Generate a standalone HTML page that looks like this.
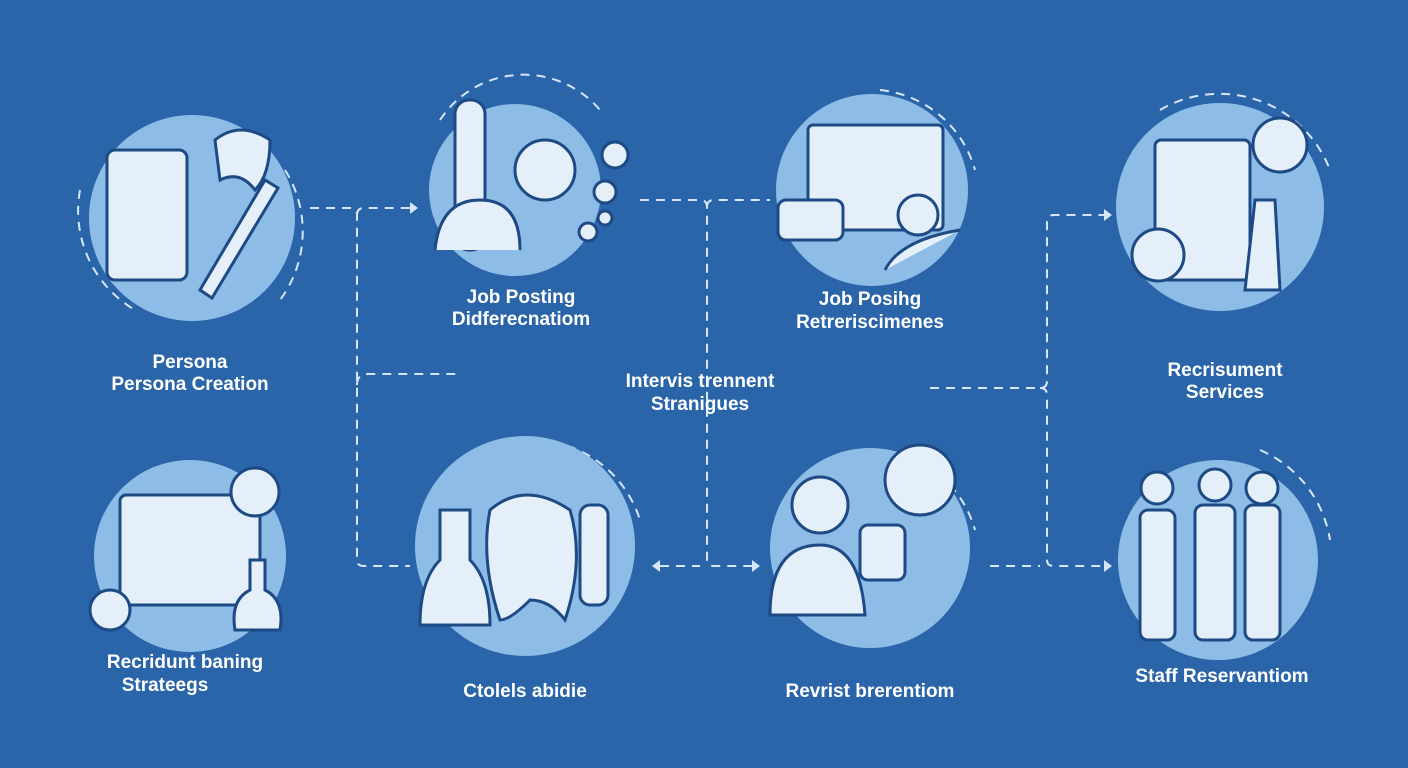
<!DOCTYPE html>
<html><head><style>
html,body{margin:0;padding:0;width:1408px;height:768px;overflow:hidden;background:#2a64a9}
svg{position:absolute;left:0;top:0}
.t{font-family:"Liberation Sans",sans-serif;font-weight:bold;fill:#fff;font-size:19px;text-anchor:middle}
</style></head><body>
<svg width="1408" height="768" viewBox="0 0 1408 768">
<g fill="none" stroke="#d6e6f6" stroke-width="2" stroke-dasharray="9 7">
<path d="M310 208 H350 Q357 208 357 215 V560 Q357 566 364 566 H410"/>
<path d="M357 215 Q357 208 364 208 H410"/>
<path d="M357 385 Q357 374 368 374 H462"/>
<path d="M640 200 H700 Q707 200 707 207 V560 Q707 566 714 566 H752"/>
<path d="M707 207 Q707 200 714 200 H770"/>
<path d="M660 566 H700"/>
<path d="M930 388 H1040 Q1047 388 1047 381 V222 Q1047 215 1054 215 H1104"/>
<path d="M1040 388 Q1047 388 1047 395 V560 Q1047 566 1054 566 H1104"/>
<path d="M990 566 H1040"/>
<path d="M80 190 A115 115 0 0 0 135 310"/>
<path d="M285 170 A115 115 0 0 1 280 300"/>
<path d="M440 120 A100 100 0 0 1 600 110"/>
<path d="M880 90 A110 110 0 0 1 975 170"/>
<path d="M1160 110 A118 118 0 0 1 1330 170"/>
<path d="M1260 450 A118 118 0 0 1 1330 540"/>
<path d="M520 440 A115 115 0 0 1 640 520"/>
<path d="M880 450 A110 110 0 0 1 975 530"/>
</g>
<g fill="#d6e6f6">
<path d="M410 202 l8 6 -8 6z"/><path d="M752 560 l8 6 -8 6z"/><path d="M660 560 l-8 6 8 6z"/>
<path d="M1104 209 l8 6 -8 6z"/><path d="M1104 560 l8 6 -8 6z"/>
</g>
<g fill="#8dbde6">
<circle cx="192" cy="218" r="103"/>
<circle cx="515" cy="190" r="86"/>
<circle cx="872" cy="190" r="96"/>
<circle cx="1220" cy="207" r="104"/>
<circle cx="190" cy="556" r="96"/>
<circle cx="525" cy="546" r="110"/>
<circle cx="870" cy="548" r="100"/>
<circle cx="1218" cy="560" r="100"/>
</g>
<g fill="#e4eff9" stroke="#1d4a85" stroke-width="3">
<rect x="107" y="150" width="80" height="130" rx="8"/>
<path d="M200 290 L265 180 L278 188 L212 298z"/>
<path d="M215 140 Q240 120 270 140 Q270 175 255 190 Q240 170 220 180z"/>
<rect x="455" y="100" width="30" height="150" rx="14"/>
<path d="M435 250 Q440 200 480 200 Q520 200 520 250"/>
<circle cx="545" cy="170" r="30"/>
<circle cx="615" cy="155" r="13"/><circle cx="605" cy="192" r="11"/><circle cx="588" cy="232" r="9"/><circle cx="605" cy="218" r="7"/>
<rect x="808" y="125" width="135" height="105" rx="5"/>
<rect x="778" y="200" width="65" height="40" rx="8"/>
<circle cx="918" cy="215" r="20"/>
<path d="M885 270 Q900 240 960 230"/>
<rect x="1155" y="140" width="95" height="140" rx="6"/>
<circle cx="1280" cy="145" r="27"/>
<circle cx="1158" cy="255" r="26"/>
<path d="M1245 290 L1255 200 L1275 200 L1280 290z"/>
<rect x="120" y="495" width="140" height="110" rx="6"/>
<circle cx="255" cy="492" r="24"/>
<path d="M235 630 Q230 600 250 590 L250 560 L265 560 L265 590 Q285 600 280 630z"/>
<circle cx="110" cy="610" r="20"/>
<path d="M490 510 Q525 480 570 510 Q585 560 565 620 Q550 600 530 600 Q510 620 500 620 Q480 560 490 510z"/>
<path d="M420 625 Q420 580 440 560 L440 510 L470 510 L470 560 Q490 580 490 625z"/>
<rect x="580" y="505" width="28" height="100" rx="10"/>
<circle cx="820" cy="505" r="28"/>
<path d="M770 615 Q770 545 820 545 Q860 545 865 615z"/>
<circle cx="920" cy="480" r="35"/>
<rect x="860" y="525" width="45" height="55" rx="8"/>
<rect x="1140" y="510" width="35" height="130" rx="8"/>
<rect x="1195" y="505" width="40" height="135" rx="8"/>
<rect x="1245" y="505" width="35" height="135" rx="8"/>
<circle cx="1157" cy="488" r="16"/><circle cx="1215" cy="485" r="16"/><circle cx="1262" cy="488" r="16"/>
</g>
<g class="t">
<text x="190" y="368">Persona</text>
<text x="190" y="390">Persona Creation</text>
<text x="521" y="303">Job Posting</text>
<text x="521" y="325">Didferecnatiom</text>
<text x="870" y="305">Job Posihg</text>
<text x="870" y="328">Retreriscimenes</text>
<text x="700" y="387">Intervis trennent</text>
<text x="700" y="410">Stranigues</text>
<text x="1225" y="376">Recrisument</text>
<text x="1225" y="398">Services</text>
<text x="185" y="668">Recridunt baning</text>
<text x="165" y="691">Strateegs</text>
<text x="525" y="697">Ctolels abidie</text>
<text x="870" y="697">Revrist brerentiom</text>
<text x="1222" y="682">Staff Reservantiom</text>
</g>
</svg>
</body></html>
